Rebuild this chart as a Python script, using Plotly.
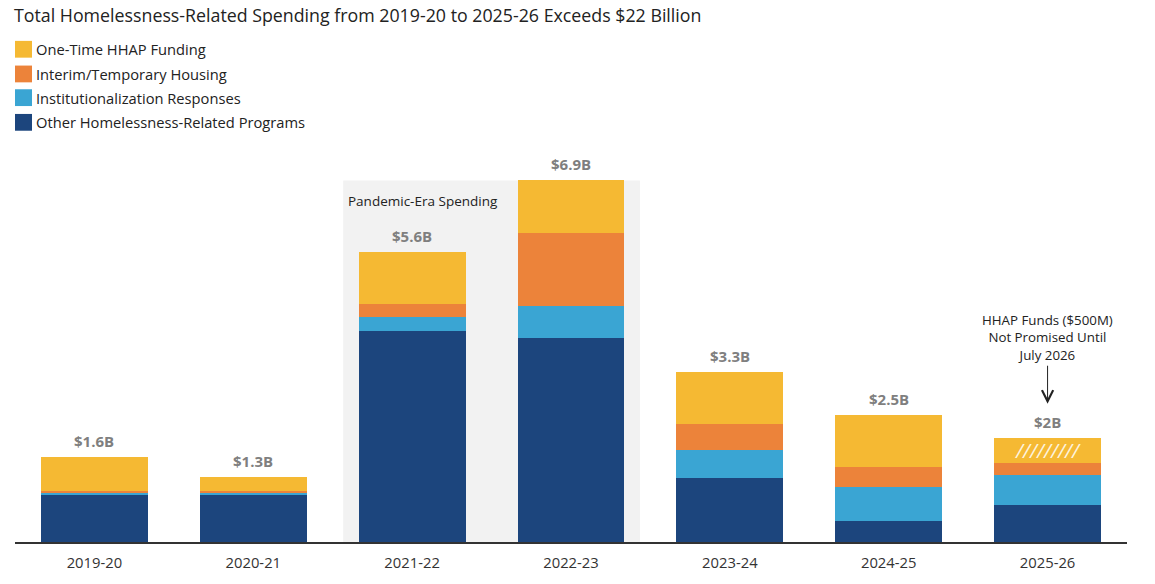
import plotly.graph_objects as go

# ---------------- data ----------------
years = ["2019-20", "2020-21", "2021-22", "2022-23", "2023-24", "2024-25", "2025-26"]
other_programs = [0.90, 0.90, 4.03, 3.90, 1.23, 0.41, 0.70]
institutional = [0.03, 0.03, 0.26, 0.61, 0.53, 0.64, 0.57]
interim_housing = [0.05, 0.04, 0.25, 1.39, 0.50, 0.38, 0.23]
hhap_one_time = [0.64, 0.28, 1.00, 1.00, 0.98, 1.00, 0.49]
total_labels = ["$1.6B", "$1.3B", "$5.6B", "$6.9B", "$3.3B", "$2.5B", "$2B"]

series_names = ["Other Homelessness-Related Programs", "Institutionalization Responses",
                "Interim/Temporary Housing", "One-Time HHAP Funding"]
series_values = [other_programs, institutional, interim_housing, hhap_one_time]
series_colors = ["#1C457D", "#3AA5D3", "#EC833A", "#F5B933"]

title_text = "Total Homelessness-Related Spending from 2019-20 to 2025-26 Exceeds $22 Billion"
pandemic_label = "Pandemic-Era Spending"
note_text = "HHAP Funds ($500M)<br>Not Promised Until<br>July 2026"

FONT = "Open Sans"
W, H = 1155, 584
ML, MR, MT, MB = 15, 28, 149, 37
PW, PH = W - ML - MR, H - MT - MB


def px_x(px):
    return (px - ML) / PW


def px_y(py):
    return (H - MB - py) / PH


fig = go.Figure()
for name, vals, col in zip(series_names, series_values, series_colors):
    fig.add_trace(go.Bar(x=years, y=vals, name=name, marker=dict(color=col, line=dict(width=0)),
                         showlegend=False, hoverinfo="x+y+name"))

totals = [sum(v) for v in zip(*series_values)]

annotations = []
# total labels
for yr, tot, lab in zip(years, totals, total_labels):
    annotations.append(dict(x=yr, y=tot, text=f"<b>{lab}</b>", showarrow=False, yanchor="bottom",
                            yshift=4, font=dict(family=FONT, size=15, color="#7F7F7F")))

# hatch marks on the uncommitted HHAP funds (last bar)
last = len(years) - 1
base_last = other_programs[last] + institutional[last] + interim_housing[last]
annotations.append(dict(x=years[last], y=base_last + hhap_one_time[last] / 2, text="<i>/////////</i>",
                        showarrow=False, yanchor="middle",
                        font=dict(family=FONT, size=20, color="rgba(255,255,255,0.85)")))

# note with arrow
annotations.append(dict(x=years[last], y=totals[last], text=note_text, showarrow=True, ax=0, ay=-100,
                        standoff=34, arrowhead=5, arrowsize=2.2, arrowwidth=1, arrowcolor="#222",
                        align="center", font=dict(family=FONT, size=13.3, color="#222")))

# pandemic shading
shade_x0 = 2 - 0.5 * (1 - 0.327) - 0.0975
shade_x1 = 3 + 0.5 * (1 - 0.327) + 0.0975
shapes = [dict(type="rect", xref="x", yref="y", x0=shade_x0, x1=shade_x1, y0=0, y1=totals[3],
               fillcolor="#F2F2F2", line=dict(width=0), layer="below")]
annotations.append(dict(xref="x", yref="y", x=shade_x0, y=totals[3], xanchor="left", yanchor="middle",
                        xshift=3, yshift=-21, text=pandemic_label, showarrow=False,
                        font=dict(family=FONT, size=13.5, color="#222")))

# manual legend
legend_rows = [48, 73, 97, 122]
for (name, col), cy in zip(list(zip(series_names, series_colors))[::-1], legend_rows):
    shapes.append(dict(type="rect", xref="paper", yref="paper", x0=px_x(15), x1=px_x(32),
                       y0=px_y(cy + 8.5), y1=px_y(cy - 8.5), fillcolor=col, line=dict(width=0)))
    annotations.append(dict(xref="paper", yref="paper", x=px_x(34), y=px_y(cy), xanchor="left",
                            yanchor="middle", text=name, showarrow=False,
                            font=dict(family=FONT, size=14.7, color="#222")))

fig.update_layout(
    barmode="stack",
    bargap=0.327,
    width=W, height=H,
    margin=dict(l=ML, r=MR, t=MT, b=MB, pad=0),
    paper_bgcolor="white", plot_bgcolor="white",
    title=dict(text=title_text, xref="container", yref="container", x=14 / W, xanchor="left",
               y=1 - 16 / H, yanchor="middle", font=dict(family=FONT, size=17.8, color="#222")),
    font=dict(family=FONT),
    xaxis=dict(type="category", range=[-0.5, 6.5], showline=True, linecolor="#333", linewidth=1.5,
               ticks="outside", ticklen=6, tickcolor="rgba(0,0,0,0)", showgrid=False,
               tickfont=dict(family=FONT, size=14.8, color="#333")),
    yaxis=dict(range=[0, 7.5], visible=False, showgrid=False, zeroline=False),
    shapes=shapes,
    annotations=annotations,
    showlegend=False,
)

fig.write_html("out.html")
